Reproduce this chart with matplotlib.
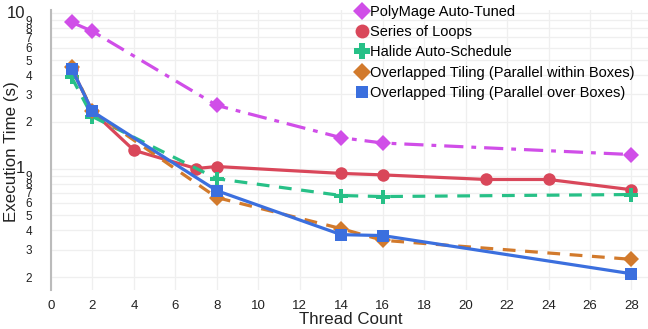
import matplotlib
matplotlib.use("Agg")
import matplotlib.pyplot as plt
from matplotlib.lines import Line2D
from matplotlib.ticker import FixedLocator

plt.rcParams['font.family'] = ['Liberation Sans', 'DejaVu Sans']

# data
poly_x = [1, 2, 8, 14, 16, 28]
poly_y = [8.75, 7.65, 2.55, 1.58, 1.46, 1.23]

loops_x = [1, 2, 4, 7, 8, 14, 16, 21, 24, 28]
loops_y = [4.4, 2.33, 1.31, 1.0, 1.03, 0.93, 0.91, 0.85, 0.85, 0.73]

halide_x = [1, 2, 8, 14, 16, 28]
halide_y = [3.86, 2.16, 0.86, 0.67, 0.66, 0.68]

within_x = [1, 2, 8, 14, 16, 28]
within_y = [4.5, 2.33, 0.65, 0.41, 0.345, 0.26]

over_x = [1, 2, 8, 14, 16, 28]
over_y = [4.4, 2.33, 0.72, 0.375, 0.37, 0.21]

labels = ["PolyMage Auto-Tuned", "Series of Loops", "Halide Auto-Schedule",
          "Overlapped Tiling (Parallel within Boxes)",
          "Overlapped Tiling (Parallel over Boxes)"]
colors = ["#d04ee8", "#d9475a", "#27c087", "#d27a2c", "#3b6fde"]
markers = ["D", "o", "P", "D", "s"]
styles = [(0, (6, 2.5, 1.5, 2.5)), "-", (0, (4, 3)), (0, (4, 3)), "-"]
msizes = [8, 9, 10, 8, 8]

fig = plt.figure(figsize=(6.48, 3.29), dpi=100)
ax = fig.add_axes([51 / 648, 1 - 290 / 329, 1 - 51 / 648, 280 / 329])

series = [(poly_x, poly_y), (loops_x, loops_y), (halide_x, halide_y),
          (within_x, within_y), (over_x, over_y)]
for i, (xs, ys) in enumerate(series):
    ax.plot(xs, ys, color=colors[i], linestyle=styles[i], linewidth=2.3,
            marker=markers[i], markersize=msizes[i], markeredgewidth=0,
            zorder=3 + i, clip_on=False)

ax.set_yscale('log')
ax.set_xlim(0, 28.8)
ax.set_ylim(0.165, 10.5)

ax.set_xticks(range(0, 29, 2))
ax.tick_params(axis='x', length=0, labelsize=9.5, pad=7, colors='#222222')

ax.yaxis.set_major_locator(FixedLocator([1, 10]))
ax.set_yticklabels(["1", "10"])
minor = [m * d for d in [0.1, 1] for m in range(2, 10) if m * d < 10.5]
ax.yaxis.set_minor_locator(FixedLocator(minor))
ax.set_yticklabels([str(int(round(v * 10))) if v < 1 else str(int(round(v))) for v in minor], minor=True)
ax.tick_params(axis='y', which='major', length=0, labelsize=12, pad=18.5, colors='#222222')
ax.tick_params(axis='y', which='minor', length=0, labelsize=8.5, pad=13.5, colors='#222222')
for t in ax.get_yticklabels():
    t.set_verticalalignment('center')

ax.grid(True, which='both', axis='y', color='#efefef', linewidth=0.9, zorder=0)
ax.grid(True, which='major', axis='x', color='#efefef', linewidth=0.9, zorder=0)

for s in ['top', 'right', 'bottom']:
    ax.spines[s].set_visible(False)
ax.spines['left'].set_color('#bbbbbb')
ax.spines['left'].set_linewidth(1.5)

ax.set_xlabel("Thread Count", fontsize=12.2, color='#222222')
ax.xaxis.set_label_coords((351 - 51) / 597, (290 - 312.5) / 280)
ax.set_ylabel("Execution Time (s)", fontsize=12.2, color='#222222')
ax.yaxis.set_label_coords(-0.054, 0.493)

handles = [Line2D([], [], color=colors[i], marker=markers[i], linestyle='none',
                  markersize=msizes[i] + 1, markeredgewidth=0) for i in range(5)]
fig.legend(handles=handles, labels=labels, loc='upper left',
           bbox_to_anchor=(349 / 648, 1.008), frameon=False, fontsize=10.5,
           handlelength=0.8, handletextpad=0.15, labelspacing=0.44,
           borderaxespad=0.1)

fig.savefig("out.png", dpi=100)
